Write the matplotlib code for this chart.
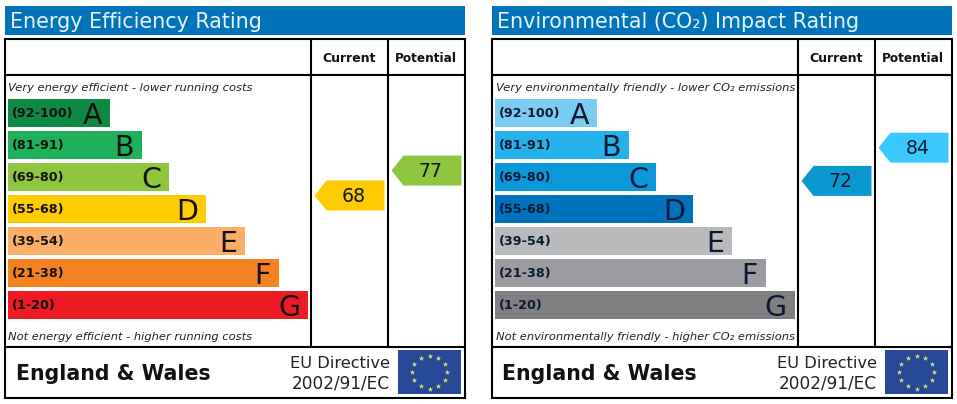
import numpy as np
import matplotlib
matplotlib.use("Agg")
import matplotlib.pyplot as plt
from matplotlib.patches import Polygon, Rectangle

plt.rcParams['font.family'] = ['DejaVu Sans']

# ---- data ----
band_ranges = ["(92-100)", "(81-91)", "(69-80)", "(55-68)", "(39-54)", "(21-38)", "(1-20)"]
band_letters = ["A", "B", "C", "D", "E", "F", "G"]
band_lengths = [102, 134, 161, 198, 237, 271, 300]

energy_title = "Energy Efficiency Rating"
energy_top = "Very energy efficient - lower running costs"
energy_bottom = "Not energy efficient - higher running costs"
energy_current = 68
energy_potential = 77
energy_colors = ["#0f8a45", "#1eb05a", "#8ec63f", "#ffcc00", "#fbae66", "#f58220", "#ed1c24"]

env_title = "Environmental (CO\u2082) Impact Rating"
env_top = "Very environmentally friendly - lower CO\u2082 emissions"
env_bottom = "Not environmentally friendly - higher CO\u2082 emissions"
env_current = 72
env_potential = 84
env_colors = ["#7accf3", "#25b1e9", "#0b98d8", "#0072bc", "#b9babc", "#9c9b9f", "#808083"]

column_heads = ["Current", "Potential"]
region = "England & Wales"
directive = ["EU Directive", "2002/91/EC"]

HEADER = "#0073bb"
W, H = 957, 404
fig = plt.figure(figsize=(W / 100, H / 100), dpi=100, facecolor="white")
ax = fig.add_axes([0, 0, 1, 1])
ax.set_xlim(0, W)
ax.set_ylim(H, 0)
ax.axis("off")


def badge(xr, w, yc, color, txt, tc="#111111"):
    h = 15
    tip = 12
    pts = [(xr, yc - h), (xr, yc + h), (xr - w + tip, yc + h), (xr - w, yc), (xr - w + tip, yc - h)]
    ax.add_patch(Polygon(pts, closed=True, facecolor=color, edgecolor="none", zorder=3))
    ax.text(xr - w / 2 + 4, yc - 1, txt, fontsize=13.6, color=tc, ha="center", va="center_baseline", zorder=4)


def panel(x0, title, top, bottom, colors, cur, pot, cur_col, pot_col, y68, textcolor):
    xl, xr = x0 + 5, x0 + 465
    c1, c2 = x0 + 311, x0 + 387.5
    ax.add_patch(Rectangle((xl, 6), 460, 29, facecolor=HEADER, edgecolor="none"))
    ax.text(xl + 5, 20.5, title, color="#e8f4fb", fontsize=14.9, ha="left", va="center_baseline")
    # frame
    lw = 1.5
    ax.add_patch(Rectangle((xl, 39), 460, 359, fill=False, edgecolor="black", lw=lw, zorder=5))
    ax.plot([xl, xr], [75, 75], color="black", lw=lw, zorder=5, solid_capstyle="butt")
    ax.plot([xl, xr], [346.5, 346.5], color="black", lw=lw, zorder=5, solid_capstyle="butt")
    for c in (c1, c2):
        ax.plot([c, c], [39, 346.5], color="black", lw=lw, zorder=5, solid_capstyle="butt")
    ax.text((c1 + c2) / 2, 57.5, column_heads[0], fontsize=9, fontweight="bold", ha="center", va="center_baseline", color="#111111")
    ax.text((c2 + xr) / 2, 57.5, column_heads[1], fontsize=8.7, fontweight="bold", ha="center", va="center_baseline", color="#111111")
    ax.text(xl + 3.5, 87, top, fontsize=8.25, style="italic", va="center_baseline", color="#222222")
    ax.text(xl + 3.5, 336, bottom, fontsize=8.25, style="italic", va="center_baseline", color="#222222")
    # bars
    ys = 113 + 32 * np.arange(len(band_lengths))
    ax.barh(ys, band_lengths, height=28, left=x0 + 8, color=colors, zorder=2)
    for y, L, r, letter in zip(ys, band_lengths, band_ranges, band_letters):
        ax.text(x0 + 12, y - 0.5, r, fontsize=9.2, fontweight="bold", va="center_baseline", color=textcolor, zorder=3)
        ax.text(x0 + 8 + L - 8, y - 0.5, letter, fontsize=20.5, ha="right", va="center_baseline", color=textcolor, zorder=3)
    # badges
    to_y = lambda v: y68 - 2.77 * (v - 68)
    badge(x0 + 384.5, 70, to_y(cur), cur_col, str(cur), textcolor)
    badge(x0 + 461.5, 70, to_y(pot), pot_col, str(pot), textcolor)
    # footer
    ax.text(xl + 10.5, 371.5, region, fontsize=14.8, fontweight="bold", va="center_baseline", color="#111111")
    ax.text(x0 + 390, 361.5, directive[0], fontsize=11.7, ha="right", va="center_baseline", color="#222222")
    ax.text(x0 + 390, 382, directive[1], fontsize=12.2, ha="right", va="center_baseline", color="#222222")
    # flag
    fx, fy, fw, fh = x0 + 398, 350, 63, 44
    ax.add_patch(Rectangle((fx, fy), fw, fh, facecolor="#264a97", edgecolor="none", zorder=3))
    ang = np.deg2rad(np.arange(0, 360, 30))
    ax.scatter(fx + fw / 2 + 17.5 * np.cos(ang), fy + fh / 2 + 16.5 * np.sin(ang), marker="*", s=16,
               color="#e8e86a", linewidths=0, zorder=4)


panel(0, energy_title, energy_top, energy_bottom, energy_colors, energy_current, energy_potential,
      "#ffcc00", "#8ec63f", 195.5, "#111111")
panel(487, env_title, env_top, env_bottom, env_colors, env_current, env_potential,
      "#0b98d0", "#3bc8ff", 192, "#0b1a33")

fig.savefig("out.png", dpi=100, facecolor="white")
